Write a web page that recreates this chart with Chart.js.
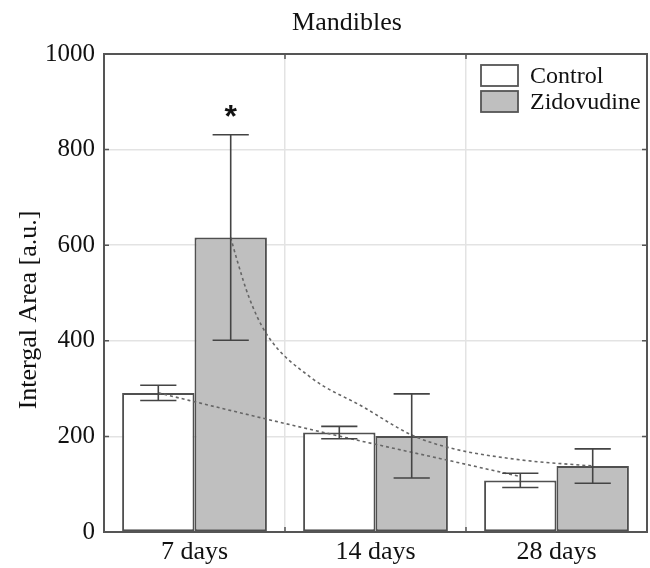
<!DOCTYPE html>
<html>
<head>
<meta charset="utf-8">
<script src="https://cdn.jsdelivr.net/npm/chart.js@4/dist/chart.umd.min.js"></script>
<style>
  html, body { margin: 0; padding: 0; background: #ffffff; }
  #wrap { width: 650px; height: 568px; }
</style>
</head>
<body>
<div id="wrap"><canvas id="c" width="650" height="568"></canvas></div>
<script>
// ---- data ----
const categories = ['7 days', '14 days', '28 days'];
const controlMeans = [291, 208, 108];
const controlErr = [16, 13, 15];
const zidMeans = [616, 201, 138];
const zidErr = [215, 88, 36];
const zidSignificance = ['*', '', ''];
const yTickValues = [0, 200, 400, 600, 800, 1000];
// dashed trend curves (x in category-index units, y in a.u.)
const controlTrendX = [-0.2, 0.4, 0.9, 1.4, 1.8];
const controlTrendY = [291, 236, 192, 150, 116];
const zidTrendX = [0.2, 0.235, 0.30, 0.395, 0.64, 0.93, 1.2, 1.41, 1.8, 2.2];
const zidTrendY = [616, 569, 492, 416, 324, 262, 203, 176, 151, 138];

const titleText = 'Mandibles';
const yTitleText = 'Intergal Area [a.u.]';
const serif = "'Liberation Serif', 'Times New Roman', serif";

const pts = (xs, ys) => xs.map((x, i) => ({ x: x, y: ys[i] }));

const decorPlugin = {
  id: 'decor',
  beforeDraw(chart) {
    const ctx = chart.ctx;
    ctx.save();
    ctx.fillStyle = '#ffffff';
    ctx.fillRect(0, 0, chart.width, chart.height);
    ctx.restore();
  },
  afterDatasetsDraw(chart) {
    const ctx = chart.ctx;
    const y = chart.scales.y;
    // error bars
    const errSets = [controlErr, zidErr];
    ctx.save();
    ctx.strokeStyle = '#444444';
    ctx.lineWidth = 1.6;
    [0, 1].forEach(di => {
      const meta = chart.getDatasetMeta(di + 2);
      const means = di === 0 ? controlMeans : zidMeans;
      meta.data.forEach((bar, i) => {
        const cx = bar.x;
        const half = bar.width / 4;
        const yt = y.getPixelForValue(means[i] + errSets[di][i]);
        const yb = y.getPixelForValue(means[i] - errSets[di][i]);
        ctx.beginPath();
        ctx.moveTo(cx, yt); ctx.lineTo(cx, yb);
        ctx.moveTo(cx - half, yt); ctx.lineTo(cx + half, yt);
        ctx.moveTo(cx - half, yb); ctx.lineTo(cx + half, yb);
        ctx.stroke();
      });
    });
    // significance marks
    const zmeta = chart.getDatasetMeta(3);
    ctx.fillStyle = '#111111';
    ctx.font = "bold 32px 'Liberation Sans', Arial, sans-serif";
    ctx.textAlign = 'center';
    ctx.textBaseline = 'alphabetic';
    zmeta.data.forEach((bar, i) => {
      if (!zidSignificance[i]) return;
      const yt = y.getPixelForValue(zidMeans[i] + zidErr[i]);
      ctx.fillText(zidSignificance[i], bar.x, yt - 8);
    });
    ctx.restore();
  },
  afterDraw(chart) {
    const ctx = chart.ctx;
    const a = chart.chartArea;
    const y = chart.scales.y;
    const x = chart.scales.x;
    ctx.save();
    // frame
    ctx.strokeStyle = '#555555';
    ctx.lineWidth = 2;
    ctx.strokeRect(a.left, a.top, a.right - a.left, a.bottom - a.top);
    // inner tick marks
    ctx.lineWidth = 1.5;
    ctx.beginPath();
    yTickValues.forEach(v => {
      const py = y.getPixelForValue(v);
      ctx.moveTo(a.left, py); ctx.lineTo(a.left + 5, py);
      ctx.moveTo(a.right, py); ctx.lineTo(a.right - 5, py);
    });
    for (let i = 1; i < categories.length; i++) {
      const px = x.getPixelForValue(i - 0.5);
      ctx.moveTo(px, a.bottom); ctx.lineTo(px, a.bottom - 5);
      ctx.moveTo(px, a.top); ctx.lineTo(px, a.top + 5);
    }
    ctx.stroke();
    // title
    ctx.fillStyle = '#111111';
    ctx.font = '26px ' + serif;
    ctx.textAlign = 'center';
    ctx.textBaseline = 'alphabetic';
    ctx.fillText(titleText, 347, 30);
    // y axis title
    ctx.save();
    ctx.translate(36, 310);
    ctx.rotate(-Math.PI / 2);
    ctx.textBaseline = 'alphabetic';
    ctx.fillText(yTitleText, 0, 0);
    ctx.restore();
    // legend
    const items = [chart.data.datasets[2], chart.data.datasets[3]];
    ctx.font = '24px ' + serif;
    ctx.textAlign = 'left';
    ctx.textBaseline = 'middle';
    const lx = a.left + 377, ly0 = a.top + 11, boxW = 37, boxH = 21, gap = 26;
    items.forEach((ds, i) => {
      const by = ly0 + i * gap;
      ctx.fillStyle = ds.backgroundColor;
      ctx.fillRect(lx, by, boxW, boxH);
      ctx.strokeStyle = '#555555';
      ctx.lineWidth = 1.8;
      ctx.strokeRect(lx, by, boxW, boxH);
      ctx.fillStyle = '#111111';
      ctx.fillText(ds.label, lx + boxW + 12, by + boxH / 2 + 1);
    });
    ctx.restore();
  }
};

new Chart(document.getElementById('c'), {
  type: 'bar',
  data: {
    labels: categories,
    datasets: [
      {
        type: 'line', label: 'Control trend', xAxisID: 'x', yAxisID: 'y', parsing: false,
        data: pts(controlTrendX, controlTrendY),
        borderColor: '#666666', borderWidth: 1.6, borderDash: [3, 3],
        pointRadius: 0, fill: false, cubicInterpolationMode: 'monotone', order: 0
      },
      {
        type: 'line', label: 'Zidovudine trend', xAxisID: 'x', yAxisID: 'y', parsing: false,
        data: pts(zidTrendX, zidTrendY),
        borderColor: '#666666', borderWidth: 1.6, borderDash: [3, 3],
        pointRadius: 0, fill: false, cubicInterpolationMode: 'monotone', order: 0
      },
      {
        label: 'Control', data: controlMeans, xAxisID: 'x', yAxisID: 'y',
        backgroundColor: '#ffffff', borderColor: '#505050', borderWidth: 2,
        borderSkipped: false, categoryPercentage: 0.8, barPercentage: 1.0, order: 1
      },
      {
        label: 'Zidovudine', data: zidMeans, xAxisID: 'x', yAxisID: 'y',
        backgroundColor: '#bfbfbf', borderColor: '#505050', borderWidth: 2,
        borderSkipped: false, categoryPercentage: 0.8, barPercentage: 1.0, order: 1
      }
    ]
  },
  options: {
    responsive: false,
    animation: false,
    layout: { padding: { top: 54, right: 3, left: 0, bottom: 0 } },
    plugins: { legend: { display: false }, tooltip: { enabled: false }, title: { display: false } },
    scales: {
      x: {
        type: 'category', offset: true, min: 0, max: 2,
        grid: { display: true, offset: true, color: '#e3e3e3', lineWidth: 1.5, drawTicks: false },
        border: { display: false },
        ticks: { color: '#111111', font: { family: serif, size: 26 }, padding: 5, maxRotation: 0 },
        afterFit(s) { s.height = 36; }
      },
      y: {
        min: 0, max: 1000,
        afterBuildTicks(s) { s.ticks = yTickValues.map(v => ({ value: v })); },
        grid: { color: '#e3e3e3', lineWidth: 1.5, drawTicks: false },
        border: { display: false },
        ticks: { color: '#111111', font: { family: serif, size: 25 }, padding: 9,
                 callback: v => String(v) },
        afterFit(s) { s.width = 104; }
      }
    }
  },
  plugins: [decorPlugin]
});
</script>
</body>
</html>
